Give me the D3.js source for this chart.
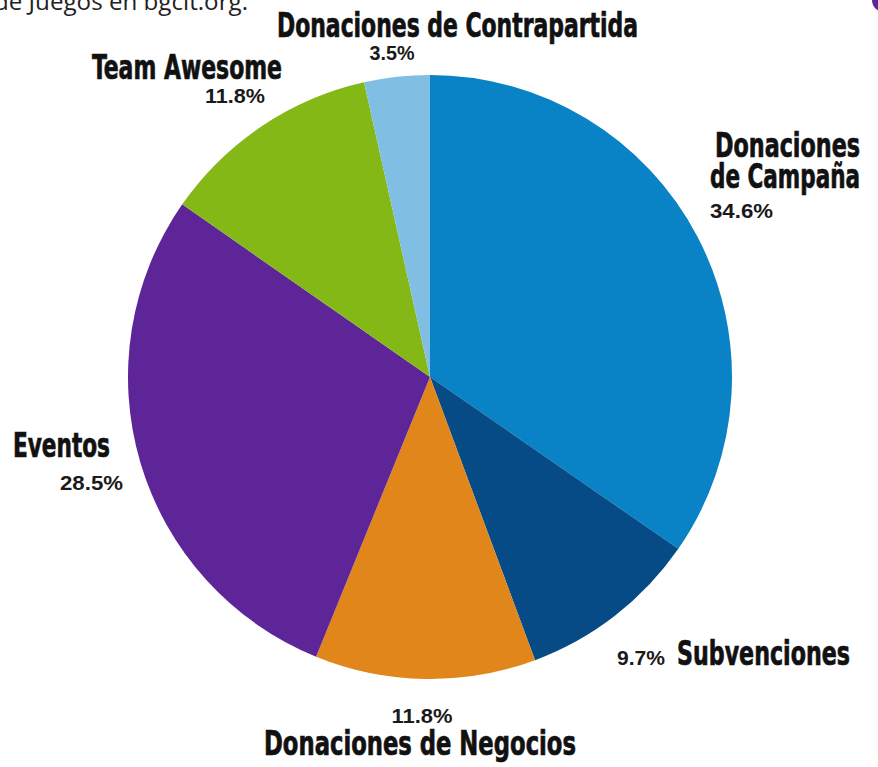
<!DOCTYPE html>
<html>
<head>
<meta charset="utf-8">
<script src="https://cdn.jsdelivr.net/npm/d3@7"></script>
<style>
  html, body { margin: 0; padding: 0; background: #fff; overflow: hidden; }
  .name { font-family: "Liberation Sans Narrow", "DejaVu Sans Condensed", "Roboto", sans-serif; font-weight: bold; fill: #111; stroke: #111; stroke-width: 0.7px; }
  .pct { font-family: "Liberation Sans", "Roboto", sans-serif; font-weight: bold; fill: #1a1a1a; }
</style>
</head>
<body>
<div id="wrapper"></div>
<script>
// share of funds by source, clockwise from 12 o'clock
const categories = ["Donaciones de Campaña", "Subvenciones", "Donaciones de Negocios", "Eventos", "Team Awesome", "Donaciones de Contrapartida"];
const values = [34.6, 9.7, 11.8, 28.5, 11.8, 3.5];
const pctLabels = ["34.6%", "9.7%", "11.8%", "28.5%", "11.8%", "3.5%"];

function drawChart() {
	const width = 878;
	const height = 767;
	const radius = 302;
	const cx = 430, cy = 377;

	const canvas = d3.select("#wrapper")
		.append("svg")
		.attr("width", width)
		.attr("height", height);

	const colScale = d3.scaleOrdinal()
		.domain(categories)
		.range(["#0a83c6", "#064b85", "#e0861b", "#5e2598", "#84b817", "#80bfe3"]);

	const pie = d3.pie().sort(null).value(d => d);
	const arc = d3.arc().innerRadius(0).outerRadius(radius);

	const slices = canvas.append("g")
		.attr("transform", `translate(${cx},${cy})`);

	slices.selectAll("path")
		.data(pie(values))
		.enter().append("path")
		.attr("d", arc)
		.attr("fill", (d, i) => colScale(categories[i]));

	// cut-off bits of the surrounding page
	canvas.append("text")
		.attr("x", 248).attr("y", 10)
		.attr("text-anchor", "end")
		.attr("textLength", 254)
		.attr("lengthAdjust", "spacingAndGlyphs")
		.style("font-family", "'Open Sans', sans-serif")
		.style("font-size", "24px")
		.style("fill", "#222")
		.text("de Juegos en bgclt.org.");
	canvas.append("circle")
		.attr("cx", 884).attr("cy", 0).attr("r", 12)
		.attr("fill", "#5e2598");

	// label layout: name lines [text, x, y, width, anchor], pct [x, y, anchor, width]
	const nameLayout = [
		{lines: [["Donaciones", 860, 157, 145, "end"], ["de Campaña", 860, 188, 150, "end"]], pct: [710, 218, "start", 63]},
		{lines: [["Subvenciones", 677, 665, 173, "start"]], pct: [617, 665, "start", 48]},
		{lines: [["Donaciones de Negocios", 420, 755, 312, "middle"]], pct: [422, 723, "middle", 61]},
		{lines: [["Eventos", 13, 457, 97, "start"]], pct: [60, 490, "start", 63]},
		{lines: [["Team Awesome", 92, 79, 190, "start"]], pct: [265, 103, "end", 60]},
		{lines: [["Donaciones de Contrapartida", 277, 37, 361, "start"]], pct: [392, 60, "middle", 45]}
	];

	nameLayout.forEach(function(l, i) {
		l.lines.forEach(function(line) {
			canvas.append("text")
				.attr("class", "name")
				.attr("x", line[1]).attr("y", line[2])
				.attr("text-anchor", line[4])
				.attr("textLength", line[3])
				.attr("lengthAdjust", "spacingAndGlyphs")
				.style("font-size", "33px")
				.text(line[0]);
		});
		canvas.append("text")
			.attr("class", "pct")
			.attr("x", l.pct[0]).attr("y", l.pct[1])
			.attr("text-anchor", l.pct[2])
			.attr("textLength", l.pct[3])
			.attr("lengthAdjust", "spacingAndGlyphs")
			.style("font-size", "20px")
			.text(pctLabels[i]);
	});
}
drawChart();
</script>
</body>
</html>
